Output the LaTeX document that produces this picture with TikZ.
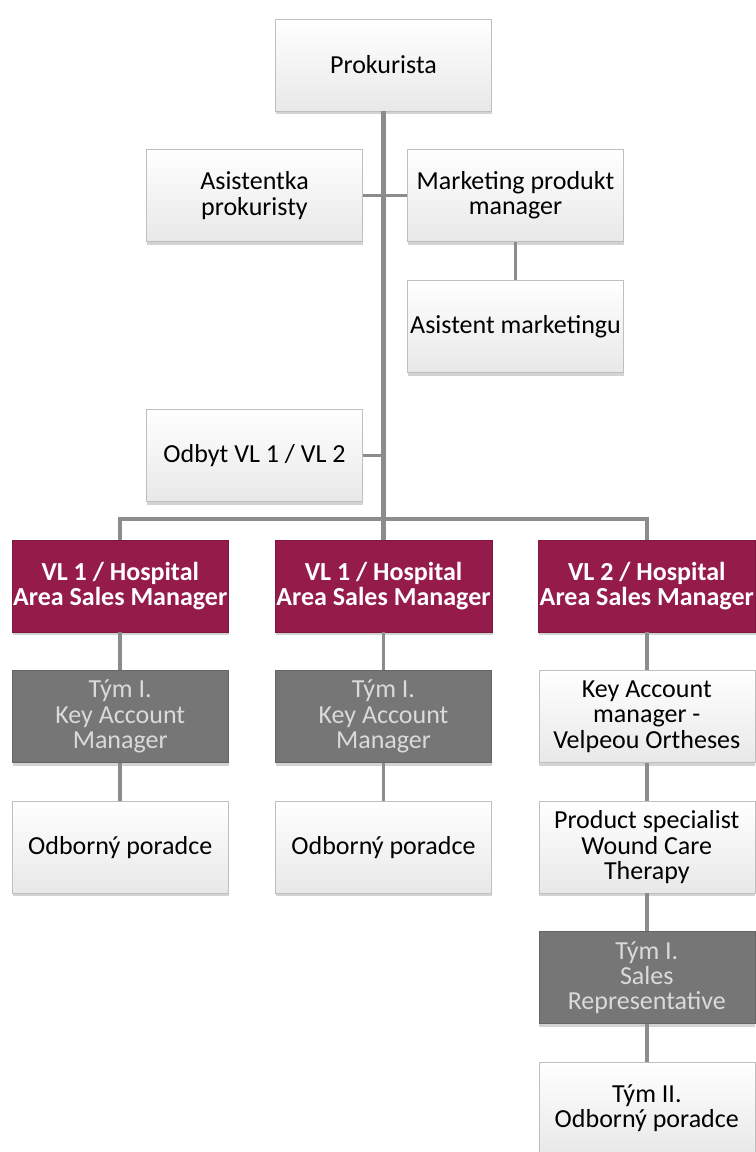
\documentclass[tikz,border=0pt]{standalone}
\usepackage{fontspec}
\setmainfont{Carlito}
\usetikzlibrary{positioning, shadows}
\definecolor{mMaroon}{HTML}{951B4B}
\definecolor{mGrey}{HTML}{767676}
\definecolor{mLightText}{HTML}{DADADA}
\definecolor{mLine}{HTML}{8C8C8C}
\definecolor{mBorder}{HTML}{BFBFBF}
\tikzset{
  font=\fontsize{19.5}{19}\selectfont,
  node distance=28.5pt and 34.5pt,
  box/.style={rectangle, minimum width=162pt, minimum height=69pt, inner sep=1pt, align=center,
    drop shadow={opacity=0.35, shadow xshift=0.5pt, shadow yshift=-2.5pt}},
  wbox/.style={box, draw=mBorder, top color=white, bottom color=gray!18},
  gbox/.style={box, draw=mGrey!85!black, fill=mGrey, text=mLightText},
  vlbox/.style={box, draw=mMaroon!85!black, fill=mMaroon, text=white, font=\fontsize{19.5}{19}\selectfont\bfseries},
  trunk/.style={draw=mLine, line width=3.2pt},
  link/.style={draw=mLine, line width=2.6pt}
}

\begin{document}
\begin{tikzpicture}[x=0.75pt, y=-0.75pt]
    \useasboundingbox (0,0) rectangle (756,1152);
    \node[wbox] (prok) at (383.5,65) {Prokurista};
    \node[wbox] (asist) at (254.5,195.5) {Asistentka\\prokuristy};
    \node[wbox] (mprod) at (515.5,195.5) {Marketing produkt\\manager};
    \node[wbox, below=29pt of mprod] (amark) {Asistent marketingu};
    \node[wbox] (odbyt) at (254.5,455.5) {Odbyt VL 1 / VL 2};
    \coordinate (bus) at (383.5,519);

    \node[vlbox] (vlb) at (383.5,586) {VL 1 / Hospital\\Area Sales Manager};
    \node[vlbox, left=of vlb] (vla) {VL 1 / Hospital\\Area Sales Manager};
    \node[vlbox, right=of vlb] (vlc) {VL 2 / Hospital\\Area Sales Manager};

    \node[gbox, below=of vla] (kama) {Tým I.\\Key Account\\Manager};
    \node[wbox, below=of kama] (pora) {Odborný poradce};
    \node[gbox, below=of vlb] (kamb) {Tým I.\\Key Account\\Manager};
    \node[wbox, below=of kamb] (porb) {Odborný poradce};
    \node[wbox, below=of vlc] (kamc) {Key Account\\manager -\\Velpeou Ortheses};
    \node[wbox, below=of kamc] (spec) {Product specialist\\Wound Care\\Therapy};
    \node[gbox, below=of spec] (reps) {Tým I.\\Sales\\Representative};
    \node[wbox, below=of reps] (porc) {Tým II.\\Odborný poradce};

    \draw[trunk] (prok) -- (vlb);
    \draw[link] (asist) -- (asist -| prok);
    \draw[link] (mprod) -- (mprod -| prok);
    \draw[link] (odbyt) -- (odbyt -| prok);
    \draw[link] (mprod) -- (amark);
    \draw[link] (vla) |- (bus) -| (vlc);
    \draw[link] (vla) -- (kama);
    \draw[link] (kama) -- (pora);
    \draw[link] (vlb) -- (kamb);
    \draw[link] (kamb) -- (porb);
    \draw[link] (vlc) -- (kamc);
    \draw[link] (kamc) -- (spec);
    \draw[link] (spec) -- (reps);
    \draw[link] (reps) -- (porc);
\end{tikzpicture}
\end{document}
